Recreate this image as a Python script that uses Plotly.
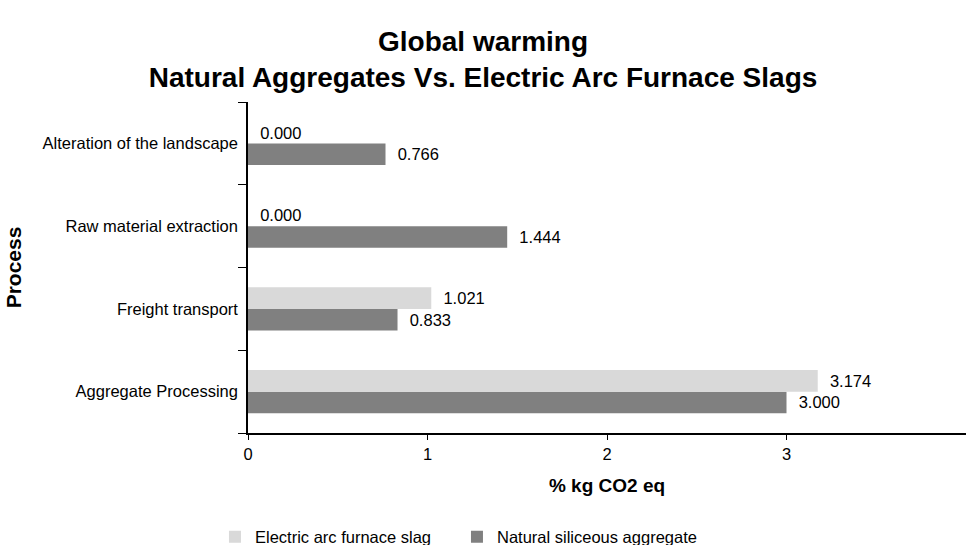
import plotly.graph_objects as go

# Processes, bottom to top on the category axis
processes = [
    "Aggregate Processing",
    "Freight transport",
    "Raw material extraction",
    "Alteration of the landscape",
]
natural_siliceous = [3.000, 0.833, 1.444, 0.766]
eaf_slag = [3.174, 1.021, 0.000, 0.000]

x_ticks = [0, 1, 2, 3, 4]

FONT = "Arial, Liberation Sans, sans-serif"
LIGHT = "#d9d9d9"
DARK = "#808080"
label_tpl = "\u00a0\u00a0%{x:.3f}"
TXT = 16.5

fig = go.Figure()
fig.add_trace(go.Bar(
    name="Natural siliceous aggregate",
    y=processes, x=natural_siliceous, orientation="h",
    marker=dict(color=DARK, line=dict(width=0)),
    texttemplate=label_tpl, textposition="outside",
    textfont=dict(family=FONT, size=TXT, color="#000"),
    cliponaxis=False,
))
fig.add_trace(go.Bar(
    name="Electric arc furnace slag",
    y=processes, x=eaf_slag, orientation="h",
    marker=dict(color=LIGHT, line=dict(width=0)),
    texttemplate=label_tpl, textposition="outside",
    textfont=dict(family=FONT, size=TXT, color="#000"),
    cliponaxis=False,
))

fig.update_layout(
    width=966, height=545,
    margin=dict(l=248, r=0, t=102, b=112, autoexpand=False),
    paper_bgcolor="white", plot_bgcolor="white",
    font=dict(family=FONT, size=TXT, color="#000"),
    barmode="group", bargap=0.48, bargroupgap=0,
    title=dict(
        text="<b>Global warming<br>Natural Aggregates Vs. Electric Arc Furnace Slags</b>",
        x=0.5, xref="container", xanchor="center",
        y=0.907, yref="container", yanchor="middle",
        font=dict(family=FONT, size=28, color="#000"),
    ),
    xaxis=dict(
        range=[0, 4], tickvals=x_ticks, ticktext=[str(v) for v in x_ticks],
        showgrid=False, zeroline=False,
        showline=True, linecolor="#000", linewidth=1.5,
        ticks="outside", ticklen=5, tickcolor="#000",
        tickfont=dict(family=FONT, size=TXT, color="#000"),
        title=dict(text="<b>% kg CO2 eq</b>", standoff=17,
                   font=dict(family=FONT, size=19, color="#000")),
    ),
    yaxis=dict(
        categoryorder="array", categoryarray=processes,
        showgrid=False, zeroline=False,
        showline=True, linecolor="#000", linewidth=1.5,
        ticks="outside", ticklen=8, tickcolor="#000",
        tickson="boundaries", ticklabelstandoff=5,
        tickfont=dict(family=FONT, size=TXT, color="#000"),
        title=dict(text="<b>Process</b>",
                   font=dict(family=FONT, size=21, color="#000")),
    ),
    legend=dict(
        orientation="h", traceorder="reversed",
        x=-0.046, xref="paper", xanchor="left",
        y=-0.314, yref="paper", yanchor="middle",
        font=dict(family=FONT, size=TXT, color="#000"),
        itemwidth=30, entrywidth=197,
    ),
)

fig.write_html("out.html")
